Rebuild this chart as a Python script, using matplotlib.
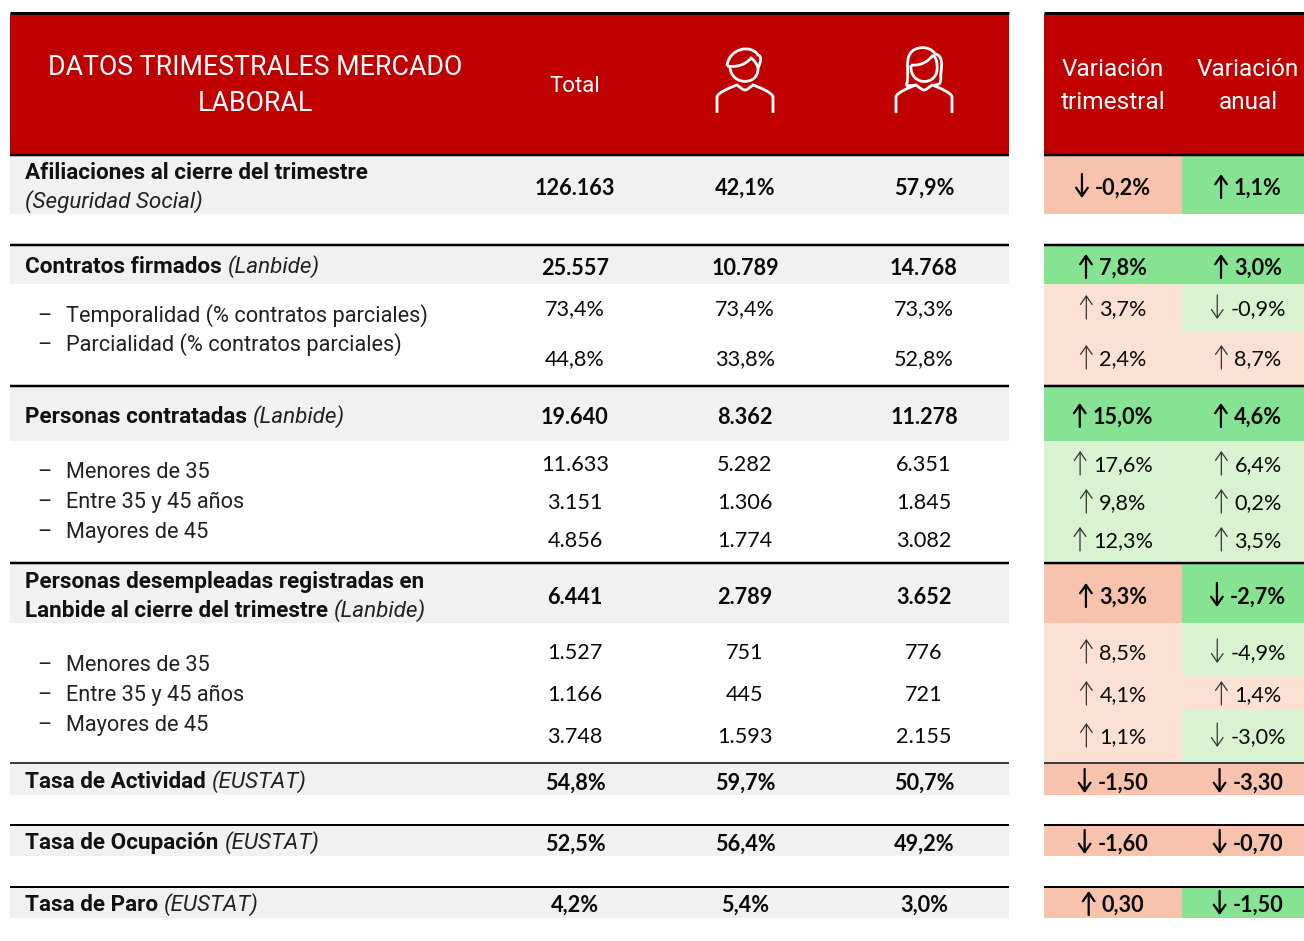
import matplotlib
matplotlib.use("Agg")
import matplotlib.pyplot as plt
from matplotlib.patches import Rectangle, PathPatch
from matplotlib.path import Path

LABEL_FONT = "Roboto"
VALUE_FONT = "Lato"
LABEL_SIZE = 15.7
STRONG_SIZE = 16.2
VALUE_SIZE = 15.6

RED = "#C00000"
GRAY = "#F1F1F1"
GREEN_STRONG = "#86E394"
GREEN_LIGHT = "#D9F2D0"
PINK_STRONG = "#F7C3AC"
PINK_LIGHT = "#FBE1D4"

total = ["126.163", "25.557", "73,4%", "44,8%", "19.640", "11.633", "3.151", "4.856",
         "6.441", "1.527", "1.166", "3.748", "54,8%", "52,5%", "4,2%"]
hombres = ["42,1%", "10.789", "73,4%", "33,8%", "8.362", "5.282", "1.306", "1.774",
           "2.789", "751", "445", "1.593", "59,7%", "56,4%", "5,4%"]
mujeres = ["57,9%", "14.768", "73,3%", "52,8%", "11.278", "6.351", "1.845", "3.082",
           "3.652", "776", "721", "2.155", "50,7%", "49,2%", "3,0%"]
var_trimestral = ["-0,2%", "7,8%", "3,7%", "2,4%", "15,0%", "17,6%", "9,8%", "12,3%",
                  "3,3%", "8,5%", "4,1%", "1,1%", "-1,50", "-1,60", "0,30"]
var_anual = ["1,1%", "3,0%", "-0,9%", "8,7%", "4,6%", "6,4%", "0,2%", "3,5%",
             "-2,7%", "-4,9%", "1,4%", "-3,0%", "-3,30", "-0,70", "-1,50"]
# favourable change or not, sets the cell colour
bueno_trimestral = [0, 1, 0, 0, 1, 1, 1, 1, 0, 0, 0, 0, 0, 0, 0]
bueno_anual = [1, 1, 1, 0, 1, 1, 1, 1, 1, 1, 0, 1, 0, 0, 1]
sube_trimestral = [0, 1, 1, 1, 1, 1, 1, 1, 1, 1, 1, 1, 0, 0, 1]
sube_anual = [1, 1, 0, 1, 1, 1, 1, 1, 0, 0, 1, 0, 0, 0, 0]

main_labels = [("Afiliaciones al cierre del trimestre", ""),
               ("Contratos firmados", "(Lanbide)"),
               ("Personas contratadas", "(Lanbide)"),
               ("Personas desempleadas registradas en", ""),
               ("Tasa de Actividad", "(EUSTAT)"),
               ("Tasa de Ocupación", "(EUSTAT)"),
               ("Tasa de Paro", "(EUSTAT)")]
sub_labels = ["Temporalidad (% contratos parciales)", "Parcialidad (% contratos parciales)",
              "Menores de 35", "Entre 35 y 45 años", "Mayores de 45",
              "Menores de 35", "Entre 35 y 45 años", "Mayores de 45"]

# layout in reference pixels
COL_X = [575, 745, 924]
VAR_X = [1113, 1248]
LEFT = (10, 1009)
RIGHT = (1044, 1304)
SPLIT = 1182
is_main = [1, 1, 0, 0, 1, 0, 0, 0, 1, 0, 0, 0, 1, 1, 1]
row_mid = [187, 267, 308, 358, 416, 464, 502, 540, 596, 652, 694, 736, 782, 843, 904]
row_top = [155, 246, 284, 331, 387, 441, 483, 521, 564, 623, 675, 709, 764, 826, 888]
row_bot = [214, 284, 331, 385, 441, 483, 521, 561, 623, 675, 709, 762, 795, 856, 918]
main_y = [179, 273, 423, 588, 788, 849, 911]
sub_y = [322, 351, 478, 508, 538, 671, 701, 731]
rules = [(13, 3), (155, 2.5), (245, 2.5), (386, 2.5), (563, 2.5), (763, 1.5), (825, 2), (887, 2)]

fig = plt.figure(figsize=(13.04, 9.41), dpi=100)
ax = fig.add_axes([0, 0, 1, 1])
ax.set_xlim(0, 1304)
ax.set_ylim(941, 0)
ax.axis("off")


def box(x0, x1, y0, y1, color):
    ax.add_patch(Rectangle((x0, y0), x1 - x0, y1 - y0, fc=color, ec="none", zorder=1))


def mixed_label(x, y, bold, italic):
    t = ax.text(x, y, bold, family=LABEL_FONT, weight="bold", fontsize=STRONG_SIZE, color="#111111", zorder=4)
    if italic:
        fig.canvas.draw()
        end = t.get_window_extent().x1
        ax.text(end + 6, y, italic, family=LABEL_FONT, style="italic", fontsize=STRONG_SIZE, color="#222222", zorder=4)


def arrow(x, y, up, bold):
    y0, y1 = (y + 11, y - 13) if up else (y - 13, y + 11)
    ax.annotate("", xy=(x, y1), xytext=(x, y0), zorder=4,
                arrowprops=dict(arrowstyle="->,head_length=0.6,head_width=0.42", shrinkA=0, shrinkB=0,
                                lw=1.6 if bold else 0.9, color="black" if bold else "#333333"))


def var_cell(cx, y, value, up, bold):
    fw = "bold" if bold else "normal"
    yy = y + 8 if bold else y + 7
    t = ax.text(cx + 10, yy, value, family=VALUE_FONT, weight=fw, fontsize=VALUE_SIZE, ha="center",
                color="#0A0A0A", zorder=4)
    fig.canvas.draw()
    arrow(t.get_window_extent().x0 - 13, y, up, bold)


def stroke(points, codes):
    ax.add_patch(PathPatch(Path(points, codes), fc="none", ec="white", lw=2.0, zorder=4, capstyle="butt"))


def shoulders(cx):
    M, L, C = Path.MOVETO, Path.LINETO, Path.CURVE4
    stroke([(cx - 28, 113), (cx - 28, 97), (cx - 28, 93), (cx - 14, 87), (cx - 8, 85), (cx - 4, 88), (cx - 2, 90),
            (cx, 90), (cx + 2, 90), (cx + 4, 88), (cx + 8, 85), (cx + 14, 87), (cx + 28, 93), (cx + 28, 97),
            (cx + 28, 113)],
           [M, L, C, C, C, C, C, C, C, C, C, C, C, C, L])


def man(cx):
    M, C = Path.MOVETO, Path.CURVE4
    # hair outline, fringe, then the chin
    stroke([(cx - 18, 66), (cx - 16, 48), (cx + 6, 44), (cx + 13, 55), (cx + 17, 56), (cx + 16, 62), (cx + 13, 68)],
           [M, C, C, C, C, C, C])
    stroke([(cx - 18, 66), (cx - 6, 68), (cx + 2, 63), (cx + 6, 58), (cx + 9, 60), (cx + 12, 64), (cx + 13, 68)],
           [M, C, C, C, C, C, C])
    stroke([(cx - 15, 67), (cx - 14, 86), (cx + 14, 86), (cx + 13, 68)], [M, C, C, C])
    shoulders(cx)


def woman(cx):
    M, L, C = Path.MOVETO, Path.LINETO, Path.CURVE4
    stroke([(cx - 18, 86), (cx - 14, 78), (cx - 19, 60), (cx - 14, 54), (cx - 10, 46), (cx + 6, 45), (cx + 11, 54),
            (cx + 19, 55), (cx + 18, 66), (cx + 17, 72), (cx + 16, 80), (cx + 19, 85), (cx + 10, 85)],
           [M, C, C, C, C, C, C, C, C, C, C, C, L])
    stroke([(cx - 18, 86), (cx - 8, 85)], [M, L])
    stroke([(cx - 13, 65), (cx - 4, 66), (cx + 4, 62), (cx + 9, 55)], [M, C, C, C])
    stroke([(cx - 13, 65), (cx - 15, 87), (cx + 16, 87), (cx + 13, 65), (cx + 13, 60), (cx + 11, 57), (cx + 9, 55)],
           [M, C, C, C, C, C, C])
    shoulders(cx)


# header
box(LEFT[0], LEFT[1], 14, 155, RED)
box(RIGHT[0], RIGHT[1], 14, 155, RED)
ax.text(255, 67, "DATOS TRIMESTRALES MERCADO", family=LABEL_FONT, fontsize=19.3, color="white",
        ha="center", va="center", zorder=4)
ax.text(255, 103, "LABORAL", family=LABEL_FONT, fontsize=19.3, color="white", ha="center", va="center", zorder=4)
ax.text(COL_X[0], 86, "Total", family=LABEL_FONT, fontsize=16, color="white", ha="center", va="center", zorder=4)
man(COL_X[1])
woman(COL_X[2])
for cx, a, b in [(VAR_X[0], "Variación", "trimestral"), (VAR_X[1], "Variación", "anual")]:
    ax.text(cx, 69, a, family=LABEL_FONT, fontsize=17.6, color="white", ha="center", va="center", zorder=4)
    ax.text(cx, 102, b, family=LABEL_FONT, fontsize=17.6, color="white", ha="center", va="center", zorder=4)

# row backgrounds and numbers
for i, mid in enumerate(row_mid):
    main = is_main[i]
    if main:
        box(LEFT[0], LEFT[1], row_top[i], row_bot[i], GRAY)
    fw = "bold" if main else "normal"
    yy = mid + 8 if main else mid + 7
    for cx, col in zip(COL_X, (total, hombres, mujeres)):
        ax.text(cx, yy, col[i], family=VALUE_FONT, weight=fw, fontsize=VALUE_SIZE, ha="center",
                color="#0A0A0A", zorder=4)
    for k, (vals, good, up) in enumerate([(var_trimestral, bueno_trimestral, sube_trimestral),
                                          (var_anual, bueno_anual, sube_anual)]):
        x0, x1 = (RIGHT[0], SPLIT) if k == 0 else (SPLIT, RIGHT[1])
        if main:
            color = GREEN_STRONG if good[i] else PINK_STRONG
        else:
            color = GREEN_LIGHT if good[i] else PINK_LIGHT
        box(x0, x1, row_top[i], row_bot[i], color)
        var_cell(VAR_X[k], mid, vals[i], up[i], main)

# left labels
for (bold, italic), y in zip(main_labels, main_y):
    mixed_label(25, y, bold, italic)
ax.text(25, 208, "(Seguridad Social)", family=LABEL_FONT, style="italic", fontsize=STRONG_SIZE, color="#222222", zorder=4)
mixed_label(25, 617, "Lanbide al cierre del trimestre", "(Lanbide)")
for lab, y in zip(sub_labels, sub_y):
    ax.text(37, y, "–", family=LABEL_FONT, fontsize=LABEL_SIZE, color="#222222", zorder=4)
    ax.text(66, y, lab, family=LABEL_FONT, fontsize=LABEL_SIZE, color="#222222", zorder=4)

# black rules on top
for y, lw in rules:
    ax.plot([LEFT[0], LEFT[1]], [y, y], color="black", lw=lw * 0.72, zorder=5, solid_capstyle="butt")
    ax.plot([RIGHT[0], RIGHT[1]], [y, y], color="black", lw=lw * 0.72, zorder=5, solid_capstyle="butt")

fig.savefig("out.png", dpi=100)
